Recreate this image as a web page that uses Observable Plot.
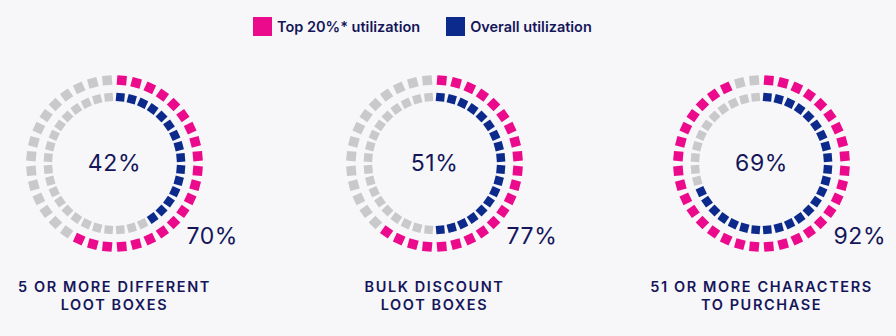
<!DOCTYPE html>
<html>
<head>
<meta charset="utf-8">
<script src="https://cdn.jsdelivr.net/npm/d3@7"></script>
<script src="https://cdn.jsdelivr.net/npm/@observablehq/plot@0.6"></script>
<style>
  html, body { margin: 0; padding: 0; width: 896px; height: 336px; overflow: hidden; background: #f7f7f9; font-family: Inter, "Noto Sans", sans-serif; }
  #root { position: relative; width: 896px; height: 336px; }
  .legend { position: absolute; top: 17px; left: 253px; display: flex; align-items: center; font-size: 14.5px; font-weight: 600; color: #15165a; }
  .legend .sw { width: 19px; height: 19px; margin-right: 5px; }
  .legend .item { display: flex; align-items: center; margin-right: 26px; }
</style>
</head>
<body>
<div id="root">
  <div class="legend" id="legend"></div>
</div>
<script>
// ---- data ----
const categories = ["5 OR MORE DIFFERENT\nLOOT BOXES", "BULK DISCOUNT\nLOOT BOXES", "51 OR MORE CHARACTERS\nTO PURCHASE"];
const top20Pct = [70, 77, 92];          // printed label, outer ring
const overallPct = [42, 51, 69];        // printed label, centre
const top20Filled = [21, 22, 34];       // filled squares drawn in the outer ring
const overallFilled = [15, 18, 25];     // filled squares drawn in the inner ring
const segmentsPerRing = 36;
const seriesNames = ["Top 20%* utilization", "Overall utilization"];

// ---- styling / layout ----
const PINK = "#ec0a8c", NAVY = "#0b2a8b", GRAY = "#c9c9cc", TEXT = "#15165a";
const centersX = [114, 434, 761];
const rings = [
  {name: seriesNames[0], radius: 83.5, r: 5.4, color: PINK, filled: top20Filled},
  {name: seriesNames[1], radius: 66.5, r: 4.8, color: NAVY, filled: overallFilled}
];

// legend
const legend = document.getElementById("legend");
[[seriesNames[0], PINK], [seriesNames[1], NAVY]].forEach(([name, c]) => {
  const it = document.createElement("div"); it.className = "item";
  const sw = document.createElement("div"); sw.className = "sw"; sw.style.background = c;
  const tx = document.createElement("span"); tx.textContent = name;
  it.append(sw, tx); legend.append(it);
});

const root = document.getElementById("root");
categories.forEach((cat, k) => {
  const ringMarks = rings.map(ring => {
    const segs = [];
    for (let i = 0; i < segmentsPerRing; i++) {
      const angle = (i + 0.5) * 360 / segmentsPerRing;
      const a = angle * Math.PI / 180;
      segs.push({
        x: ring.radius * Math.sin(a),
        y: ring.radius * Math.cos(a),
        angle,
        fill: i < ring.filled[k] ? ring.color : GRAY
      });
    }
    return Plot.dot(segs, {x: "x", y: "y", r: ring.r, rotate: "angle", symbol: "square", fill: d => d.fill, stroke: null});
  });
  const svg = Plot.plot({
    width: 280, height: 270,
    margin: 0,
    x: {domain: [-140, 140], range: [0, 280], axis: null},
    y: {domain: [-160, 110], range: [270, 0], axis: null},
    color: {type: "identity"},
    style: {background: "transparent"},
    marks: [
      ...ringMarks,
      Plot.text([overallPct[k]], {x: 0, y: 0, text: d => d + "%", fontSize: 23, fill: TEXT, textAnchor: "middle", fontFamily: "Inter"}),
      Plot.text([top20Pct[k]], {x: 72, y: -73, text: d => d + "%", fontSize: 23, fill: TEXT, textAnchor: "start", fontFamily: "Inter"}),
      Plot.text([cat], {x: 0, y: -116, text: d => d, fontSize: 14.5, fontWeight: 600, fill: TEXT, textAnchor: "middle", lineAnchor: "top", lineHeight: 1.25, fontFamily: "Inter"})
    ]
  });
  svg.style.left = (centersX[k] - 140) + "px";
  svg.style.position = "absolute";
  svg.style.top = "53px";
  const texts = svg.querySelectorAll("text");
  texts.forEach(t => {
    const isLabel = t.textContent.indexOf("%") < 0;
    t.setAttribute("letter-spacing", isLabel ? "1.6" : "0.6");
  });
  root.append(svg);
});
</script>
</body>
</html>
